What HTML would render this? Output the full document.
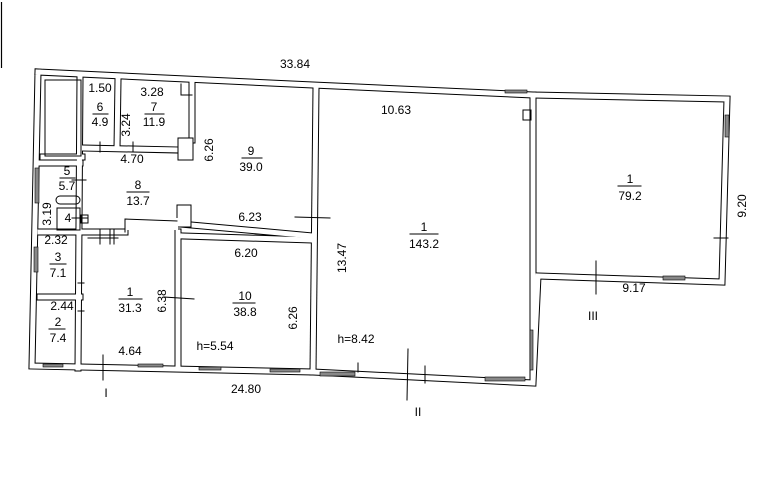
<!DOCTYPE html>
<html><head><meta charset="utf-8"><style>
html,body{margin:0;padding:0;background:#fff;width:761px;height:480px;overflow:hidden}
svg{display:block}
text{font-family:"Liberation Sans",sans-serif;font-size:12px;fill:#000}
</style></head><body>
<svg width="761" height="480" viewBox="0 0 761 480" xmlns="http://www.w3.org/2000/svg">
<line x1="1.5" y1="2" x2="1.5" y2="68" stroke="#000" stroke-width="1.2"/>
<g fill="none" stroke-linejoin="miter" stroke-linecap="square">
<g stroke="#000" stroke-width="7">
<polyline points="38,72 313,85 533,95 727,99 722,282 538,276 533,383 313,372 32,366 38,72"/>
<path d="M316,88 L313,372"/>
<path d="M533,95 L533,380"/>
<path d="M80,78 L78,368"/>
<path d="M82,157 L43,157"/>
<path d="M118,80 L117,148"/>
<path d="M83,148 L178,150"/>
<path d="M192,82 L192,140"/>
<path d="M180,224 L313,236"/>
<path d="M80,232 L125,232"/>
<path d="M178,232 L178,368"/>
<path d="M183,236 L313,240"/>
<path d="M40,163 L80,163"/>
<path d="M40,232 L80,232"/>
<path d="M40,297 L80,297"/>
</g>
<g stroke="#fff" stroke-width="5">
<polyline points="38,72 313,85 533,95 727,99 722,282 538,276 533,383 313,372 32,366 38,72"/>
<path d="M316,88 L313,372"/>
<path d="M533,95 L533,380"/>
<path d="M80,78 L78,368"/>
<path d="M82,157 L43,157"/>
<path d="M118,80 L117,148"/>
<path d="M83,148 L178,150"/>
<path d="M192,82 L192,140"/>
<path d="M180,224 L313,236"/>
<path d="M80,232 L125,232"/>
<path d="M178,232 L178,368"/>
<path d="M183,236 L313,240"/>
<path d="M40,163 L80,163"/>
<path d="M40,232 L80,232"/>
<path d="M40,297 L80,297"/>
</g>
<g stroke="#000" stroke-width="1">
<rect x="45" y="80" width="36" height="76"/>
<rect x="178" y="138" width="15" height="22" fill="#fff"/>
<rect x="177" y="205" width="14" height="22" fill="#fff"/>
<rect x="125" y="218" width="53" height="12" fill="#fff" stroke="none"/>
<path d="M125,232 L125,219 L177,221"/>
<path d="M181,84 L181,95 L192,95"/>
<rect x="57" y="208" width="23" height="22"/>
<rect x="56" y="196" width="24" height="8" rx="4"/>
<rect x="81" y="215" width="7" height="8"/>
<rect x="523" y="110" width="8" height="10"/>
<line x1="358" y1="363" x2="358" y2="372"/>
</g>
<g fill="#888" stroke="#000" stroke-width="0.6">
<rect x="35" y="168" width="4" height="35"/>
<rect x="34" y="247" width="4" height="25"/>
<rect x="725" y="115" width="4" height="22"/>
<rect x="663" y="276" width="22" height="4"/>
<rect x="505" y="90" width="22" height="3"/>
<rect x="485" y="377" width="40" height="4"/>
<rect x="320" y="372" width="35" height="4"/>
<rect x="199" y="367" width="22" height="3"/>
<rect x="270" y="369" width="30" height="3"/>
<rect x="138" y="364" width="25" height="3"/>
<rect x="43" y="364" width="20" height="3"/>
<rect x="530" y="330" width="3" height="40"/>
</g>
<g stroke="#000" stroke-width="1">
<line x1="103" y1="355" x2="103" y2="380"/>
<line x1="408" y1="349" x2="407" y2="400"/>
<line x1="425" y1="366" x2="425" y2="383"/>
<line x1="596" y1="261" x2="596" y2="294"/>
<line x1="164" y1="297" x2="194" y2="299"/>
<line x1="295" y1="217" x2="330" y2="218"/>
<line x1="78" y1="283" x2="84" y2="283"/>
<line x1="78" y1="311" x2="84" y2="311"/>
<line x1="72" y1="180" x2="86" y2="180"/>
<line x1="72" y1="218" x2="88" y2="218"/>
<line x1="88" y1="238" x2="118" y2="238"/>
<line x1="100" y1="230" x2="100" y2="244"/>
<line x1="110" y1="230" x2="110" y2="244"/>
<line x1="114" y1="230" x2="114" y2="244"/>
<line x1="100" y1="142" x2="100" y2="152"/>
<line x1="133" y1="142" x2="133" y2="152"/>
<line x1="714" y1="238" x2="728" y2="238"/>
</g>
<g stroke="#000" stroke-width="1">
<line x1="93" y1="114" x2="108" y2="114"/>
<line x1="145" y1="114" x2="164" y2="114"/>
<line x1="242" y1="158" x2="262" y2="158"/>
<line x1="60" y1="178" x2="75" y2="178"/>
<line x1="127" y1="192" x2="149" y2="192"/>
<line x1="50" y1="264" x2="66" y2="264"/>
<line x1="49" y1="329" x2="65" y2="329"/>
<line x1="119" y1="299" x2="142" y2="299"/>
<line x1="233" y1="303" x2="255" y2="303"/>
<line x1="410" y1="234" x2="438" y2="234"/>
<line x1="618" y1="186" x2="641" y2="186"/>
</g>
</g>
<g text-anchor="middle">
<text x="295" y="68">33.84</text>
<text x="100" y="92">1.50</text>
<text x="152" y="96">3.28</text>
<text x="100" y="111">6</text><text x="100" y="126">4.9</text>
<text x="154" y="111">7</text><text x="154" y="126">11.9</text>
<text x="251" y="155">9</text><text x="251" y="171">39.0</text>
<text x="132" y="163">4.70</text>
<text x="67" y="175">5</text><text x="67" y="190">5.7</text>
<text x="138" y="189">8</text><text x="138" y="205">13.7</text>
<text x="68" y="222">4</text>
<text x="250" y="221">6.23</text>
<text x="56" y="244">2.32</text>
<text x="58" y="261">3</text><text x="58" y="277">7.1</text>
<text x="62" y="310">2.44</text>
<text x="58" y="326">2</text><text x="58" y="342">7.4</text>
<text x="130" y="296">1</text><text x="130" y="312">31.3</text>
<text x="245" y="300">10</text><text x="245" y="316">38.8</text>
<text x="246" y="257">6.20</text>
<text x="215" y="350">h=5.54</text>
<text x="130" y="355">4.64</text>
<text x="246" y="393">24.80</text>
<text x="106" y="397">I</text>
<text x="396" y="114">10.63</text>
<text x="424" y="231">1</text><text x="424" y="248">143.2</text>
<text x="356" y="343">h=8.42</text>
<text x="418" y="416">II</text>
<text x="630" y="183">1</text><text x="630" y="200">79.2</text>
<text x="634" y="292">9.17</text>
<text x="593" y="320">III</text>
<text transform="translate(130,125) rotate(-90)">3.24</text>
<text transform="translate(213,150) rotate(-90)">6.26</text>
<text transform="translate(51,214) rotate(-90)">3.19</text>
<text transform="translate(166,301) rotate(-90)">6.38</text>
<text transform="translate(297,318) rotate(-90)">6.26</text>
<text transform="translate(346,258) rotate(-90)">13.47</text>
<text transform="translate(746,206) rotate(-90)">9.20</text>
</g>
</svg>
</body></html>
